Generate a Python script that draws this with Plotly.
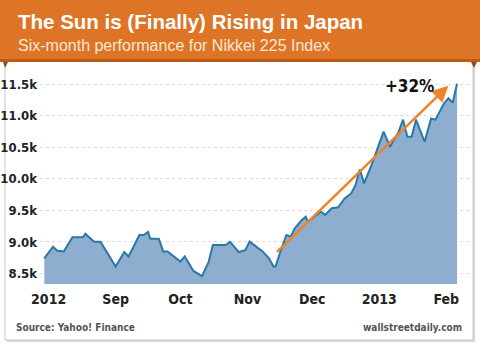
import plotly.graph_objects as go

# ---- data ----
dates = [
    "2012-07-30", "2012-08-03", "2012-08-05", "2012-08-08", "2012-08-12", "2012-08-17",
    "2012-08-18", "2012-08-22", "2012-08-25", "2012-09-01", "2012-09-05", "2012-09-07",
    "2012-09-12", "2012-09-14", "2012-09-16", "2012-09-17", "2012-09-21", "2012-09-23",
    "2012-09-25", "2012-10-01", "2012-10-03", "2012-10-07", "2012-10-11", "2012-10-14",
    "2012-10-16", "2012-10-22", "2012-10-24", "2012-10-28", "2012-10-31", "2012-11-02",
    "2012-11-08", "2012-11-11", "2012-11-13", "2012-11-14", "2012-11-16", "2012-11-19",
    "2012-11-21", "2012-11-23", "2012-11-26", "2012-11-28", "2012-11-29", "2012-12-05",
    "2012-12-07", "2012-12-10", "2012-12-13", "2012-12-16", "2012-12-19", "2012-12-21",
    "2012-12-23", "2012-12-25", "2012-12-29", "2013-01-03", "2013-01-06", "2013-01-10",
    "2013-01-12", "2013-01-14", "2013-01-16", "2013-01-18", "2013-01-22", "2013-01-25",
    "2013-01-27", "2013-01-30", "2013-01-31", "2013-02-02", "2013-02-04", "2013-02-06",
]
nikkei = [
    8740, 8925, 8860, 8850, 9075, 9080,
    9130, 9005, 9005, 8610, 8840, 8770,
    9110, 9110, 9160, 9050, 9050, 8850,
    8850, 8690, 8770, 8540, 8460, 8680,
    8950, 8950, 9000, 8840, 8870, 9005,
    8850, 8740, 8610, 8610, 8820, 9110,
    9085, 9220, 9340, 9400, 9320, 9480,
    9430, 9535, 9550, 9690, 9770, 9900,
    10150, 9930, 10270, 10750, 10510, 10750,
    10940, 10670, 10670, 10940, 10590, 10960,
    10940, 11150, 11200, 11280, 11210, 11510,
]
tick_dates = ["2012-08-01", "2012-09-01", "2012-10-01", "2012-11-01",
              "2012-12-01", "2013-01-01", "2013-02-01"]
tick_labels = ["2012", "Sep", "Oct", "Nov", "Dec", "2013", "Feb"]
y_ticks = [8500, 9000, 9500, 10000, 10500, 11000, 11500]
y_labels = ["8.5k", "9.0k", "9.5k", "10.0k", "10.5k", "11.0k", "11.5k"]

trend_start = ("2012-11-14", 8820)
trend_end = ("2013-02-02", 11480)
trend_label = "+32%"
trend_label_pos = ("2013-01-15", 11480)

title = "The Sun is (Finally) Rising in Japan"
subtitle = "Six-month performance for Nikkei 225 Index"
source = "Source: Yahoo! Finance"
credit = "wallstreetdaily.com"

# ---- layout geometry ----
W, H = 480, 348
L, R, T, B = 40, 10, 68, 64
PW, PH = W - L - R, H - T - B


def px(x):
    return (x - L) / PW


def py(y):
    return (H - B - y) / PH


COND = "DejaVu Sans Condensed, Liberation Sans Narrow, Roboto, sans-serif"

fig = go.Figure()
fig.add_trace(go.Scatter(
    x=dates, y=nikkei, mode="lines", fill="tozeroy",
    line=dict(color="#2878A8", width=2), fillcolor="#8DAECF",
    hoverinfo="skip", showlegend=False,
))

shapes = [
    # panel
    dict(type="rect", xref="paper", yref="paper", x0=px(7), x1=px(475), y0=py(342), y1=py(63),
         line=dict(width=0), fillcolor="#d8d8d8", layer="below"),
    dict(type="rect", xref="paper", yref="paper", x0=px(5), x1=px(473), y0=py(340), y1=py(61),
         line=dict(color="#c8c8c8", width=1), fillcolor="white", layer="below"),
    # header band
    dict(type="rect", xref="paper", yref="paper", x0=px(0), x1=px(480), y0=py(62), y1=py(0),
         line=dict(width=0), fillcolor="#DE7526", layer="above"),
    dict(type="rect", xref="paper", yref="paper", x0=px(0), x1=px(480), y0=py(62), y1=py(59),
         line=dict(width=0), fillcolor="#BF5A12", layer="above"),
    # ribbon folds
    dict(type="path", xref="paper", yref="paper",
         path=f"M {px(3)} {py(62)} L {px(8)} {py(62)} L {px(5)} {py(68)} Z",
         line=dict(width=0), fillcolor="#9A4A10", layer="above"),
    dict(type="path", xref="paper", yref="paper",
         path=f"M {px(471)} {py(62)} L {px(477)} {py(62)} L {px(474)} {py(68)} Z",
         line=dict(width=0), fillcolor="#9A4A10", layer="above"),
]

annotations = [
    dict(xref="paper", yref="paper", x=px(16), y=py(21), text=f"<b>{title}</b>",
         showarrow=False, xanchor="left", yanchor="middle",
         font=dict(family="Liberation Sans, Arial, sans-serif", size=20.5, color="white")),
    dict(xref="paper", yref="paper", x=px(16), y=py(45), text=subtitle,
         showarrow=False, xanchor="left", yanchor="middle",
         font=dict(family="Liberation Sans, Arial, sans-serif", size=16, color="#FBE7D6")),
    dict(xref="paper", yref="paper", x=px(14), y=py(327), text=source,
         showarrow=False, xanchor="left", yanchor="middle",
         font=dict(family=COND, size=10, color="#555555", weight="bold")),
    dict(xref="paper", yref="paper", x=px(464), y=py(327), text=credit,
         showarrow=False, xanchor="right", yanchor="middle",
         font=dict(family=COND, size=10, color="#555555", weight="bold")),
    # trend arrow
    dict(x=trend_end[0], y=trend_end[1], ax=trend_start[0], ay=trend_start[1],
         xref="x", yref="y", axref="x", ayref="y", text="", showarrow=True,
         arrowhead=2, arrowsize=1.3, arrowwidth=2.5, arrowcolor="#EF8326"),
    dict(x=trend_label_pos[0], y=trend_label_pos[1], xref="x", yref="y",
         text=trend_label, showarrow=False,
         font=dict(family=COND, size=17, color="#111111", weight="bold")),
]

fig.update_layout(
    width=W, height=H,
    margin=dict(l=L, r=R, t=T, b=B, autoexpand=False),
    paper_bgcolor="white", plot_bgcolor="rgba(0,0,0,0)",
    shapes=shapes, annotations=annotations,
    xaxis=dict(
        range=["2012-07-28", "2013-02-12"], tickmode="array", automargin=False,
        tickvals=tick_dates, ticktext=tick_labels, showgrid=False, zeroline=False,
        showline=False, ticks="", ticklabelstandoff=5,
        tickfont=dict(family=COND, size=14, color="#222222", weight="bold"),
    ),
    yaxis=dict(
        range=[8333, 11760], tickmode="array", tickvals=y_ticks, ticktext=y_labels,
        automargin=False,
        showgrid=True, gridcolor="#dcdcdc", griddash="dot", gridwidth=1,
        zeroline=False, showline=False, ticks="", ticklabelstandoff=2,
        tickfont=dict(family=COND, size=13, color="#222222", weight="bold"),
    ),
)

fig.write_html("out.html")
